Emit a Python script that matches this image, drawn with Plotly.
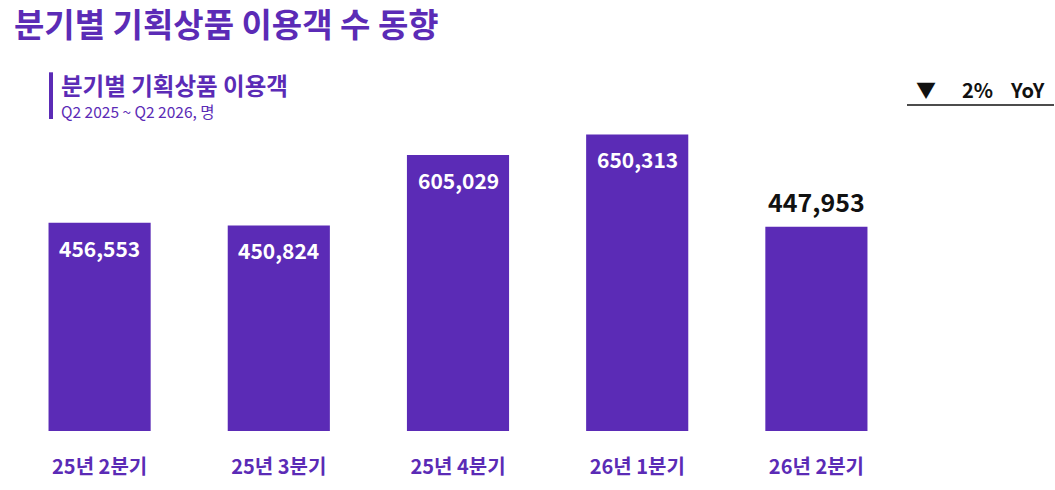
import plotly.graph_objects as go

categories = ["25년 2분기", "25년 3분기", "25년 4분기", "26년 1분기", "26년 2분기"]
values = [456553, 450824, 605029, 650313, 447953]
yoy_text = "2%"

PURPLE = "#5B2BB6"
FONT = "Noto Sans CJK KR"
W, H = 1055, 490
ML, MR = 10, 149
PT, PB = 120, 433   # plot area top / bottom in pixels


def fx(p):
    return (p - ML) / (W - MR - ML)


def fy(p):
    return (PB - p) / (PB - PT)


fig = go.Figure()
fig.add_trace(go.Bar(
    x=categories, y=values,
    marker=dict(color=PURPLE, line=dict(width=0)),
    hoverinfo="skip",
))

n = len(categories)
for i, (c, v) in enumerate(zip(categories, values)):
    last = i == n - 1
    fig.add_annotation(
        x=c, y=v, xref="x", yref="y",
        text=f"{v:,}",
        showarrow=False,
        yanchor="middle",
        yshift=26 if last else -25,
        font=dict(family=FONT, size=25 if last else 21,
                  color="#111111" if last else "white", weight="bold"),
    )

def txt(x, y, text, size, color, bold=True, xanchor="left"):
    fig.add_annotation(xref="paper", yref="paper", x=fx(x), y=fy(y),
                       xanchor=xanchor, yanchor="middle", text=text, showarrow=False,
                       font=dict(family=FONT, size=size, color=color,
                                 weight="bold" if bold else "normal"))

txt(12, 22, "분기별 기획상품 이용객 수 동향", 33, PURPLE)
txt(59, 85, "분기별 기획상품 이용객", 23.5, PURPLE)
txt(59, 111, "Q2 2025 ~ Q2 2026, 명", 15.5, PURPLE, bold=False)
txt(926, 89, "▼", 20, "#111111", bold=False, xanchor="center")
txt(977, 89, yoy_text, 20, "#111111", xanchor="center")
txt(1027, 89, "YoY", 20, "#111111", xanchor="center")

fig.add_shape(type="line", xref="paper", yref="paper", x0=fx(51), x1=fx(51),
              y0=fy(72), y1=fy(119), line=dict(color=PURPLE, width=4))
fig.add_shape(type="line", xref="paper", yref="paper", x0=fx(907), x1=fx(1054),
              y0=fy(105), y1=fy(105), line=dict(color="#111111", width=1.5))

ymax = values[3] * (PB - PT) / (PB - 134.5)

fig.update_layout(
    width=W, height=H,
    margin=dict(l=ML, r=MR, t=PT, b=H - PB, pad=0),
    paper_bgcolor="white", plot_bgcolor="white",
    bargap=0.43,
    showlegend=False,
    xaxis=dict(showgrid=False, zeroline=False, showline=False, ticks="",
               tickfont=dict(family=FONT, size=20, color=PURPLE, weight="bold"),
               ticklabelstandoff=22, fixedrange=True),
    yaxis=dict(range=[0, ymax], visible=False, fixedrange=True),
)

fig.write_html("out.html", config={"displayModeBar": False},
               post_script="document.body.style.margin='0';document.body.style.padding='0';")
